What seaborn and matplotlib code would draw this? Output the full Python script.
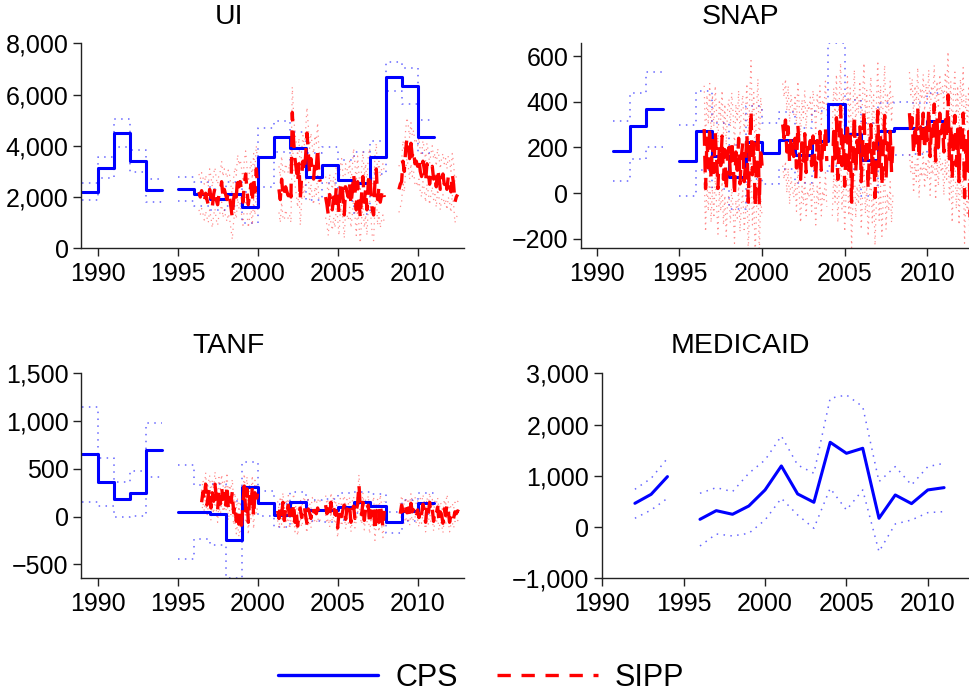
import numpy as np
import pandas as pd
import matplotlib
matplotlib.use("Agg")
import matplotlib.pyplot as plt
from matplotlib.lines import Line2D
from matplotlib.ticker import FuncFormatter
import seaborn as sns

nan = np.nan

# CPS annual estimates (held over each calendar year) and CI half-widths
years = np.arange(1989, 2011)
ui_cps = [2200, 3150, 4500, 3400, 2270, nan, 2300, 2120, 1910, 2120, 1600,
          3550, 4350, 3900, 2800, 3250, 2650, 2550, 3550, 6700, 6350, 4350]
ui_cps_ci = [330, 400, 530, 440, 450, nan, 470, 450, 420, 480, 600,
             1150, 600, 650, 900, 700, 800, 1200, 650, 580, 700, 650]
snap_cps = [nan, nan, 185, 292, 367, nan, 142, 273, 162, 72, 222,
            174, 232, 166, 228, 388, 257, 145, 273, 283, 283, 317]
snap_cps_ci = [nan, nan, 132, 145, 165, nan, 155, 172, 145, 140, 160,
               135, 125, 120, 130, 268, 150, 160, 120, 115, 110, 123]
tanf_cps = [652, 359, 181, 243, 697, nan, 48, 48, 22, -240, 313,
            139, 16, 152, 65, 65, 103, 149, 115, -60, 60, 139]
tanf_cps_ci = [495, 250, 185, 235, 280, nan, 490, 280, 320, 400, 262,
               130, 120, 110, 110, 120, 140, 110, 120, 110, 110, 110]

# Medicaid CPS (annual points)
med_years = np.arange(1992, 2012)
med_cps = [463, 639, 984, nan, 151, 320, 249, 411, 724, 1192, 646, 483,
           1654, 1439, 1537, 171, 626, 457, 724, 769]
med_hi = [737, 951, 1341, nan, 659, 769, 691, 1049, 1309, 1777, 1211, 1049,
          2512, 2577, 2350, 886, 1179, 821, 1179, 1244]
med_lo = [171, 333, 561, nan, -369, -135, -174, -122, 138, 561, 236, -24,
          756, 333, 724, -480, 60, 138, 281, 301]

# SIPP monthly estimates, Jan 1996 .. Dec 2012
sipp_years = np.arange(1996, 2013)
ui_sipp = [
    nan, nan, nan, nan, 2200, 2000, 2250, 2050, 1800, 2150, 1900, 1700,
    2300, 2000, 1600, 2100, 2350, 1900, 1700, 2100, 2200, 2600, 2000, 2300,
    2100, 1900, 2200, 2000, 1600, 1200, 1900, 2300, 2000, 2800, 2400, 2600,
    2200, 1800, 2500, 2900, 2300, 1700, 2100, 2500, 1800, 2800, 2200, 3100,
    2400, nan, nan, nan, nan, nan, nan, nan, nan, nan, nan, nan,
    nan, nan, nan, nan, 2300, 1900, 2700, 2100, 2000, 2400, 2200, 2050,
    2300, 2000, 5300, 4200, 3500, 3100, 2600, 3300, 1900, 2800, 3400, 3000,
    3600, 4500, 3800, 2900, 3500, 3000, 2700, 3400, 3100, 3900, 2800, 2600,
    nan, nan, nan, 2000, 1700, 1300, 2100, 1800, 1500, 2000, 1600, 2400,
    2100, 1400, 2300, 2600, 2000, 1300, 2400, 2200, 2000, 2500, 1700, 2200,
    2900, 2300, 1500, 2600, 1900, 1200, 2100, 2800, 1800, 2300, 1500, 2600,
    2900, 2200, 1500, 1300, 2600, 3100, 1900, 2400, 1800, 2100, 2300, 2000,
    nan, nan, nan, nan, nan, nan, nan, nan, nan, nan, 2300, 2500,
    2600, 3400, 3000, 3800, 4300, 4000, 3500, 4100, 3600, 3800, 3300, 3400,
    3200, 3500, 3000, 2800, 3400, 3100, 2600, 3300, 3000, 2500, 2900, 3200,
    2700, 2900, 2400, 3100, 2800, 2300, 2700, 2900, 2500, 2700, 2300, 2800,
    2600, 2200, 2900, 2500, 1800, 2000, 2100, nan, nan, nan, nan, nan,
]
ui_sipp_ci = [700, 800, 850, 900, 900, 900, 1000, 1000, 800, 900, 1000,
              1000, 900, 800, 800, 800, 800]

snap_sipp = [
    nan, nan, nan, nan, nan, nan, 280, 20, 240, 110, 290, 60,
    230, 90, 270, 150, 20, 210, 120, 250, 60, 190, 10, 170,
    200, 80, 230, 140, -10, 180, 100, 240, 40, 160, 220, 50,
    130, 260, -40, 190, 360, 80, 220, -60, 150, 280, -50, 200,
    120, nan, nan, nan, nan, nan, nan, nan, nan, nan, nan, nan,
    nan, nan, nan, 300, 240, 320, 180, 290, 130, 250, 200, 160,
    240, 110, 300, 190, 60, 220, 140, 260, 90, 200, 170, 230,
    120, 250, 180, 60, 230, 150, 270, 100, 210, 170, 290, 140,
    nan, nan, nan, 90, 270, 150, 330, 60, 210, 380, 120, 250,
    30, 200, 310, 100, 260, -40, 180, 340, 90, 230, 150, 290,
    50, 210, 360, 120, 240, 20, 190, 300, 80, 220, -20, 170,
    360, 100, 250, 30, 200, 340, 60, 220, 140, 270, 90, 210,
    nan, nan, nan, nan, nan, nan, nan, nan, nan, nan, nan, 350,
    260, 330, 170, 300, 220, 380, 150, 290, 240, 350, 190, 310,
    230, 370, 160, 300, 250, 390, 140, 320, 200, 350, 260, 300,
    180, 340, 250, 430, 150, 300, 60, 260, 340, 120, 280, 50,
    300, 180, 350, -20, 230, 100, 270, -125, nan, nan, nan, nan,
]
snap_sipp_ci = [190, 200, 210, 220, 220, 180, 190, 200, 190, 200, 210,
                220, 180, 170, 170, 190, 200]

tanf_sipp = [
    nan, nan, nan, nan, nan, nan, 150, 260, 180, 340, 120, 230,
    300, 90, 250, 160, 340, 200, 70, 280, 130, 310, 180, 240,
    120, 330, 90, 200, 150, 260, 40, 120, -50, 60, -80, 30,
    -90, 140, 320, 60, 290, -60, 210, 100, 300, 0, 250, 160,
    240, nan, nan, nan, nan, nan, nan, nan, nan, nan, nan, nan,
    nan, nan, nan, 60, -20, 110, 20, 150, -40, 80, 30, 120,
    -30, 70, 10, 140, -60, 50, -100, 20, 90, -10, 60, 110,
    10, -70, 80, 40, -20, 100, 50, 60, 30, 90, 40, 70,
    nan, nan, nan, 120, 30, 80, -10, 150, 50, 100, 20, 60,
    -120, 40, 90, 0, 70, 120, -30, 80, 30, 100, -60, 60,
    110, -20, 60, 130, 340, 90, 20, 150, -40, 80, 40, 120,
    -80, 60, 10, 110, -150, 40, 80, -60, 130, 20, -120, 60,
    nan, nan, nan, nan, nan, nan, nan, nan, nan, nan, nan, 30,
    120, 60, 20, 100, 40, 90, 10, 140, 50, 80, 110, 30,
    70, -10, 90, 30, 130, 50, -60, 100, 20, 150, 40, 80,
    -50, 60, 30, 100, -40, 50, 20, -70, 80, 10, 130, 60,
    -60, 20, 40, -20, 50, 30, 60, 50, nan, nan, nan, nan,
]
tanf_sipp_ci = [120, 130, 130, 130, 130, 100, 100, 100, 100, 100, 100,
                100, 100, 100, 100, 100, 100]

BLUE = "#0000ff"
RED = "#ff0000"
DOT = (0, (1, 3.5))

sns.set_style("ticks")
plt.rcParams["font.family"] = ["Liberation Sans", "DejaVu Sans"]
plt.rcParams["text.color"] = "black"


def step_frame(yrs, vals):
    # each year becomes a flat piece from Jan 1 to Dec 31
    rows = []
    seg = 0
    for yr, v in zip(yrs, vals):
        if np.isnan(v):
            seg += 1
            continue
        rows.append((yr, v, seg))
        rows.append((yr + 1, v, seg))
    return pd.DataFrame(rows, columns=["x", "y", "seg"])


def line_frame(x, vals):
    df = pd.DataFrame({"x": x, "y": vals})
    df["seg"] = df["y"].isna().cumsum()
    return df.dropna()


def draw(ax, df, **kw):
    sns.lineplot(data=df, x="x", y="y", units="seg", estimator=None,
                 sort=False, ax=ax, legend=False, **kw)


def fmt(v, pos):
    return f"{v:,.0f}".replace("-", "\u2212")


W, H = 969, 698
fig = plt.figure(figsize=(W / 100, H / 100), dpi=100)


def add_ax(l, t, r, b):
    return fig.add_axes([l / W, 1 - b / H, (r - l) / W, (b - t) / H])


panels = [
    ("UI", (81, 43.3, 464, 248.3), (1988.96, 2012.9), (0, 8000), np.arange(0, 8001, 2000),
     ui_cps, ui_cps_ci, ui_sipp, ui_sipp_ci, (229, 24)),
    ("SNAP", (580.7, 43.3, 975.3, 248.3), (1989.03, 2012.9), (-242, 656), np.arange(-200, 601, 200),
     snap_cps, snap_cps_ci, snap_sipp, snap_sipp_ci, (740, 24)),
    ("TANF", (81, 373.3, 464, 578.3), (1988.96, 2012.9), (-646, 1500), np.arange(-500, 1501, 500),
     tanf_cps, tanf_cps_ci, tanf_sipp, tanf_sipp_ci, (229, 353)),
]

months = np.repeat(sipp_years, 12) + np.tile(np.arange(12), len(sipp_years)) / 12.0

for name, box, xl, yl, yt, cps, cps_ci, sipp, sipp_ci, tpos in panels:
    ax = add_ax(*box)
    cps = np.array(cps, dtype=float)
    ci = np.array(cps_ci, dtype=float)
    draw(ax, step_frame(years, cps + ci), color=BLUE, lw=1.1, ls=DOT, alpha=0.6)
    draw(ax, step_frame(years, cps - ci), color=BLUE, lw=1.1, ls=DOT, alpha=0.6)
    s = np.array(sipp, dtype=float)
    sci = np.repeat(np.array(sipp_ci, dtype=float), 12)
    draw(ax, line_frame(months, s + sci), color=RED, lw=0.9, ls=DOT, alpha=0.45)
    draw(ax, line_frame(months, s - sci), color=RED, lw=0.9, ls=DOT, alpha=0.45)
    draw(ax, step_frame(years, cps), color=BLUE, lw=2.2)
    draw(ax, line_frame(months, s), color=RED, lw=2.4, dashes=(5, 3))
    ax.set_xlim(*xl)
    ax.set_ylim(*yl)
    ax.set_yticks(yt)
    fig.text(tpos[0] / W, 1 - tpos[1] / H, name, ha="center", va="baseline",
             fontsize=20.5, color="black")

# Medicaid panel
axm = add_ax(601.7, 373.3, 975, 578.3)
draw(axm, line_frame(med_years, med_hi), color=BLUE, lw=1.1, ls=DOT, alpha=0.6)
draw(axm, line_frame(med_years, med_lo), color=BLUE, lw=1.1, ls=DOT, alpha=0.6)
draw(axm, line_frame(med_years, med_cps), color=BLUE, lw=2.2)
axm.set_xlim(1989.96, 2012.9)
axm.set_ylim(-1000, 3000)
axm.set_yticks(np.arange(-1000, 3001, 1000))
fig.text(740 / W, 1 - 353 / H, "MEDICAID", ha="center", va="baseline",
         fontsize=20.5, color="black")

for ax in fig.axes:
    ax.set_xticks(np.arange(1990, 2011, 5))
    ax.xaxis.set_major_formatter(FuncFormatter(lambda v, p: f"{v:.0f}"))
    ax.yaxis.set_major_formatter(FuncFormatter(fmt))
    ax.set_xlabel("")
    ax.set_ylabel("")
    ax.tick_params(labelsize=18, length=6, width=1, color="#222222",
                   labelcolor="black", pad=3)
    ax.tick_params(axis="x", pad=4)
    sns.despine(ax=ax)
    for sp in ("left", "bottom"):
        ax.spines[sp].set_color("#222222")
        ax.spines[sp].set_linewidth(1)

handles = [Line2D([], [], color=BLUE, lw=2.4),
           Line2D([], [], color=RED, lw=2.4, dashes=(4, 3.2))]
fig.legend(handles, ["CPS", "SIPP"], loc="center", bbox_to_anchor=(481 / W, 1 - 678 / H),
           ncol=2, frameon=False, fontsize=22, handlelength=3.3,
           handletextpad=0.55, columnspacing=1.3, labelcolor="black")

fig.savefig("out.png", dpi=100)
